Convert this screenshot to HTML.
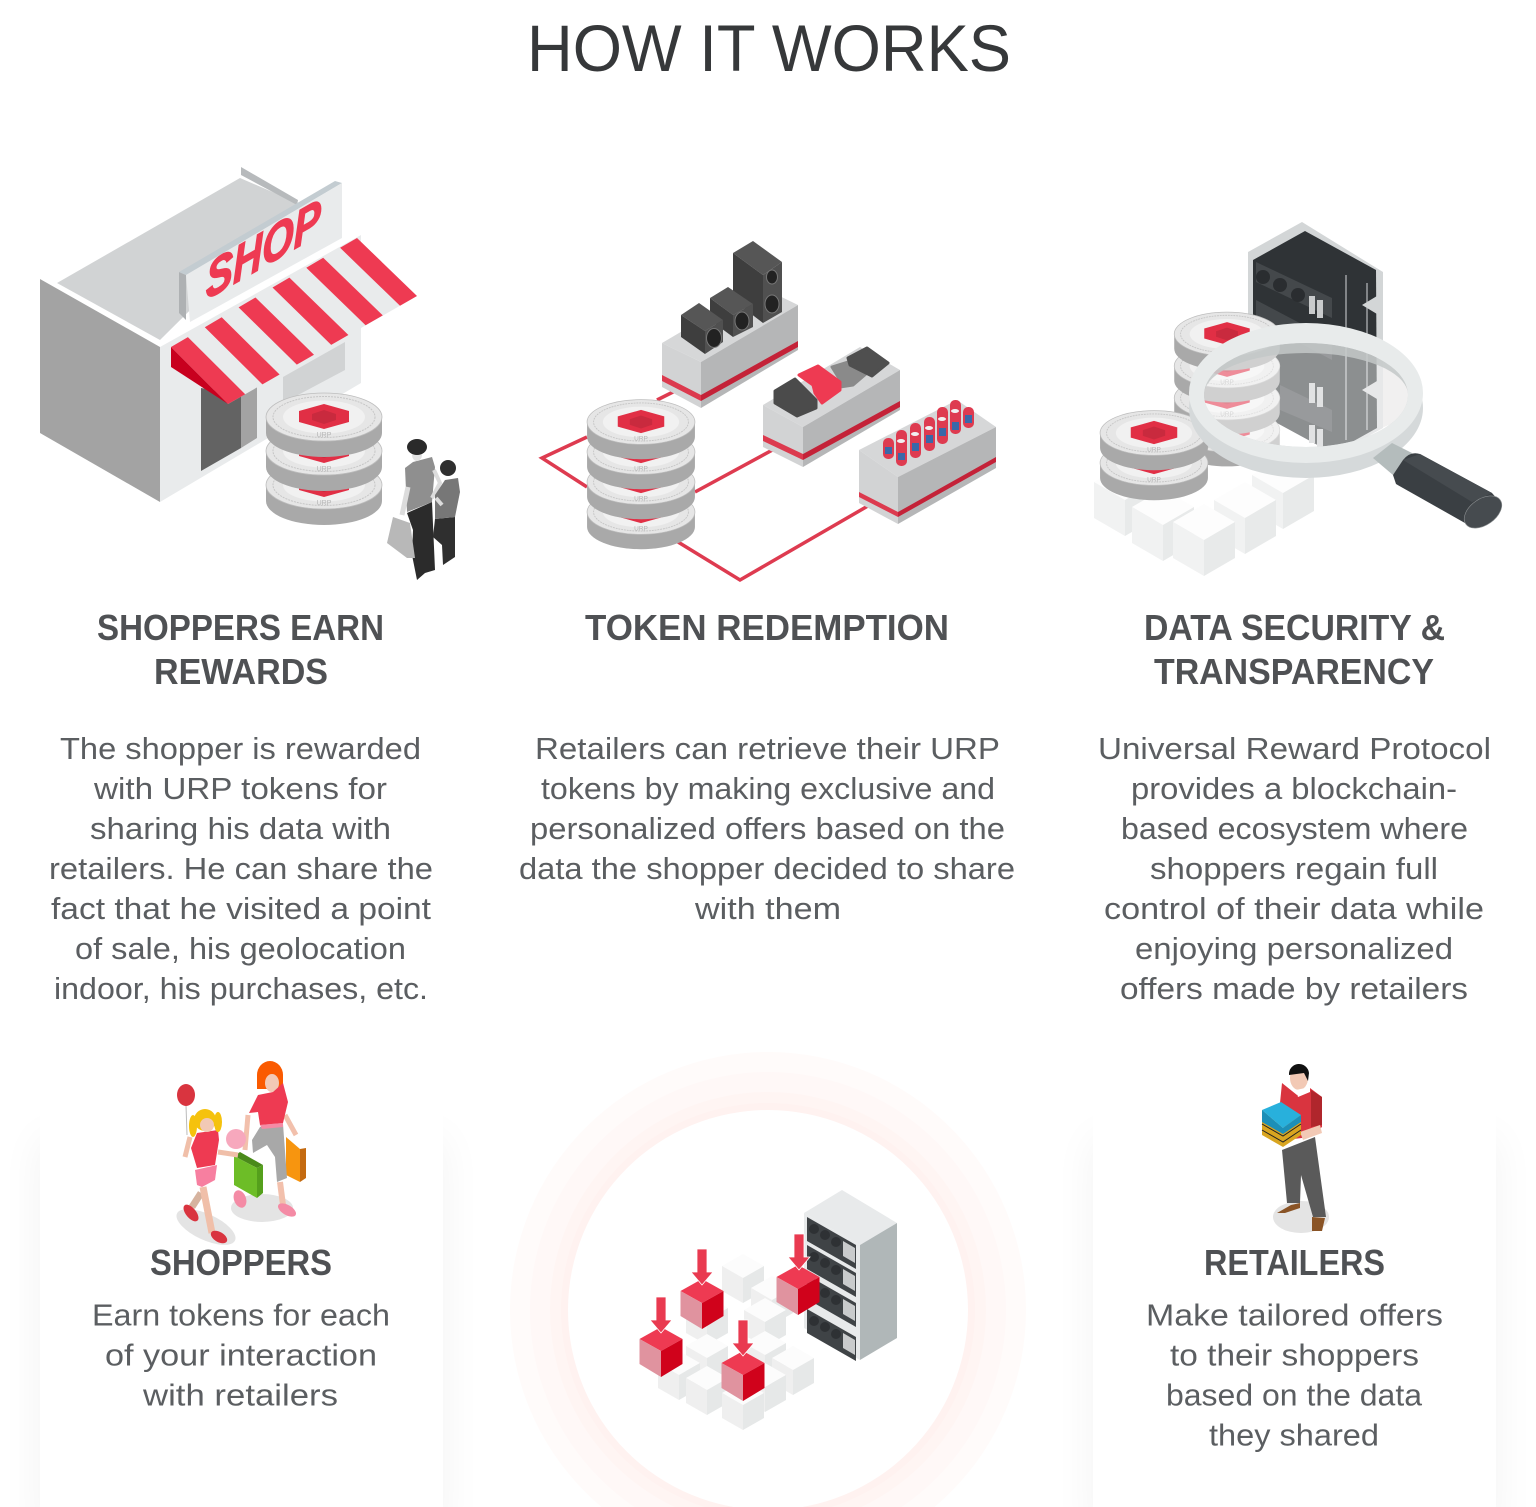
<!DOCTYPE html>
<html lang="en"><head><meta charset="utf-8"><title>How It Works</title>
<style>
html,body{margin:0;padding:0;background:#fff;width:1536px;height:1507px;overflow:hidden;position:relative}
.card{position:absolute;top:1108px;width:403px;height:399px;background:#fff;box-shadow:0 30px 40px rgba(0,0,0,.05)}
svg{position:absolute;left:0;top:0;display:block}
text{font-family:"Liberation Sans",sans-serif}
.h1{font-size:66px;fill:#36383a}
.h3{font-size:36px;font-weight:bold;fill:#4f5154}
.b{font-size:31px;fill:#5b5e61}
</style></head><body>
<div class="card" style="left:40px"></div>
<div class="card" style="left:1093px"></div>
<svg width="1536" height="1507" viewBox="0 0 1536 1507" xmlns="http://www.w3.org/2000/svg">
<defs>
<g id="coin">
<path d="M-58,0v16a58,24 0 0 0 116,0v-16z" fill="#a9a9a9"/>
<ellipse rx="58" ry="24" fill="#e6e6e6" stroke="#bdbdbd" stroke-width=".8"/>
<ellipse rx="51" ry="20.5" fill="none" stroke="#c6c6c6" stroke-dasharray="2 1"/>
<ellipse rx="41" ry="16.5" fill="#f1f1f1"/>
<polygon points="0,-13 25,-6 25,5 0,12 -25,5 -25,-6" fill="#e12f45"/>
<polygon points="-12,-3 0,-7 12,-3 12,3 0,7 -12,3" fill="#c92a3e"/>
<text x="0" y="20" text-anchor="middle" font-size="7" fill="#b5b5b5">URP</text>
</g>
<g id="wc">
<polygon points="0,0 -21,-12 0,-24 21,-12" fill="#fcfcfc"/>
<polygon points="0,0 -21,-12 -21,13 0,25" fill="#efefef"/>
<polygon points="0,0 21,-12 21,13 0,25" fill="#e6e8e8"/>
</g>
<g id="rc">
<polygon points="0,0 -21.5,-12 0,-24 21.5,-12" fill="#ee3a52"/>
<polygon points="0,0 -21.5,-12 -21.5,13 0,26" fill="#e0939f"/>
<polygon points="0,0 21.5,-12 21.5,13 0,26" fill="#d0021b"/>
</g>
<path id="ar" d="M0,0L-11,-13L-5,-13L-5,-36L5,-36L5,-13L11,-13Z" fill="#e93a50" stroke="#fff" stroke-width=".8"/>
<g id="bc">
<polygon points="0,0 -31,-18 0,-36 31,-18" fill="#fdfdfd"/>
<polygon points="0,0 -31,-18 -31,18 0,36" fill="#f1f2f2"/>
<polygon points="0,0 31,-18 31,18 0,36" fill="#e8eaea"/>
</g>
<g id="shelf">
<polygon points="807,0 856,28 856,52 807,24" fill="#3f4346"/>
<circle cx="814" cy="12" r="5" fill="#2e3134"/><circle cx="825" cy="18" r="5" fill="#2e3134"/><circle cx="836" cy="25" r="5" fill="#2e3134"/>
<polygon points="843,24 855,31 855,46 843,39" fill="#c9cbcc"/>
</g>
</defs>

<text class="h1" x="527" y="71" textLength="484" lengthAdjust="spacingAndGlyphs">HOW IT WORKS</text>

<!-- SHOP -->
<polygon points="40,279 241,167 298,200 160,347" fill="#fff"/>
<polygon points="57,283 240,178 298,203 160,340" fill="#d1d3d4"/>
<polygon points="241,167 298,200 297,205 241,175" fill="#b7babc"/>
<polygon points="40,279 160,347 160,502 40,433" fill="#a3a3a3"/>
<polygon points="160,347 361,235 361,383 160,502" fill="#e9ebec"/>
<polygon points="283,377 345,342 345,370 283,403" fill="#d1d3d4"/>
<polygon points="201,388 241,395 241,448 201,471" fill="#636363"/>
<polygon points="241,395 257,385 257,438 241,448" fill="#a3a3a3"/>
<polygon points="179,272 186,275 186,320 179,313" fill="#aeb1b3"/>
<polygon points="179,272 335,181 342,183 186,275" fill="#c3ccd1"/>
<polygon points="186,275 342,183 342,238 190,322" fill="#e9ebec"/>
<text transform="matrix(.87,-.5,0,1,206,300)" font-size="52" font-weight="bold" font-style="italic" fill="#ee3a52" stroke="#ee3a52" stroke-width="1.4" textLength="132" lengthAdjust="spacingAndGlyphs">SHOP</text>
<polygon points="171,347 357,238 417,296 228,404" fill="#e9ebec"/>
<g fill="#ee3a52">
<polygon points="171,347 187.9,337.1 245.2,394.2 228,404"/>
<polygon points="204.8,327.2 221.7,317.3 279.6,374.5 262.4,384.4"/>
<polygon points="238.6,307.4 255.5,297.5 314,354.8 296.8,364.6"/>
<polygon points="272.5,287.5 289.4,277.6 348.4,335 331.2,344.9"/>
<polygon points="306.3,267.7 323.2,257.8 382.8,315.4 365.6,325.2"/>
<polygon points="340.1,247.8 357,238 417,296 400,305.8"/>
</g>
<polygon points="171,347 171,367 228,404" fill="#c8001e"/>
<use href="#coin" x="324" y="485"/><use href="#coin" x="324" y="451"/><use href="#coin" x="324" y="417"/>
<!-- couple -->
<polygon points="407,513 432,502 435,570 425,573 417,580 412,555 413,530" fill="#2b2b2b"/>
<polygon points="387,543 393,517 410,523 415,558 407,558" fill="#b8b8b8"/>
<polygon points="405,468 413,462 432,457 435,467 432,502 407,512" fill="#8f8f8f"/>
<path d="M408,487L402,515" stroke="#dcdcdc" stroke-width="5"/>
<path d="M434,470L440,483L432,498" stroke="#dcdcdc" stroke-width="4" fill="none"/>
<ellipse cx="417" cy="455" rx="5" ry="6" fill="#e2e2e2"/>
<ellipse cx="417" cy="447" rx="10" ry="8" fill="#2a2a2a"/>
<polygon points="435,519 455,517 455,557 443,565 442,545 433,537" fill="#2f2f2f"/>
<polygon points="435,495 445,480 458,478 460,492 455,517 435,519" fill="#777"/>
<path d="M436,498L442,505" stroke="#dcdcdc" stroke-width="4"/>
<circle cx="448" cy="468" r="8" fill="#2f2f2f"/>

<!-- TOKEN REDEMPTION -->
<g fill="none" stroke="#de3b50" stroke-width="3.5">
<path d="M677,390L657,400"/><path d="M587,437L542,458L587,487"/><path d="M695,492L778,447"/><path d="M678,542L740,580L873,503"/>
</g>
<polygon points="662,343 759,286 798,305 701,362" fill="#d6d7d8"/>
<polygon points="662,343 701,362 701,408 662,387" fill="#d2d3d4"/>
<polygon points="701,362 798,305 798,350 701,408" fill="#b5b6b7"/>
<polygon points="662,375 701,395 701,401 662,381" fill="#dc3a4e"/>
<polygon points="701,395 798,341 798,347 701,401" fill="#c42238"/>
<polygon points="763,405 860,347 900,370 803,427" fill="#d6d7d8"/>
<polygon points="763,405 803,427 803,467 763,447" fill="#d2d3d4"/>
<polygon points="803,427 900,370 900,410 803,467" fill="#b5b6b7"/>
<polygon points="763,435 803,454 803,460 763,441" fill="#dc3a4e"/>
<polygon points="803,454 900,401 900,407 803,460" fill="#c42238"/>
<polygon points="859,450 957,400 996,427 898,477" fill="#d6d7d8"/>
<polygon points="859,450 898,477 898,524 859,503" fill="#d2d3d4"/>
<polygon points="898,477 996,427 996,468 898,524" fill="#b5b6b7"/>
<polygon points="859,492 898,512 898,517 859,497" fill="#dc3a4e"/>
<polygon points="898,512 996,457 996,462 898,517" fill="#c42238"/>
<!-- speakers -->
<polygon points="733,253 753,241 782,262 763,275" fill="#565656"/>
<polygon points="733,253 763,275 763,323 733,300" fill="#3e3e3e"/>
<polygon points="763,275 782,262 782,312 763,323" fill="#505050"/>
<ellipse cx="772" cy="277" rx="5.5" ry="7" fill="#222" stroke="#777"/><ellipse cx="772" cy="304" rx="7" ry="9" fill="#222" stroke="#777"/>
<polygon points="710,298 728,287 753,304 733,315" fill="#565656"/>
<polygon points="710,298 733,315 733,337 710,320" fill="#3e3e3e"/>
<polygon points="733,315 753,304 753,327 733,337" fill="#505050"/>
<ellipse cx="742" cy="321" rx="7" ry="9" fill="#222" stroke="#777"/>
<polygon points="681,315 699,303 723,320 705,331" fill="#565656"/>
<polygon points="681,315 705,331 705,354 681,337" fill="#3e3e3e"/>
<polygon points="705,331 723,320 723,342 705,354" fill="#505050"/>
<ellipse cx="714" cy="338" rx="7.5" ry="9.5" fill="#222" stroke="#777"/>
<!-- clothes -->
<g stroke-linejoin="round" stroke-width="3">
<polygon points="775,391 795,379 816,400 816,408 797,416 775,403" fill="#4b4b4b" stroke="#4b4b4b"/>
<polygon points="832,367 848,362 867,373 853,385 840,387 840,380" fill="#8a8a8a" stroke="#8a8a8a"/>
<polygon points="848,358 867,348 888,363 872,376 850,365" fill="#4f4f4f" stroke="#4f4f4f"/>
<polygon points="799,375 818,366 840,382 840,390 822,403 815,393 813,385" fill="#ee3a52" stroke="#ee3a52"/>
</g>
<!-- bottles -->
<g fill="#de3b50">
<rect x="883" y="438" width="11" height="21" rx="5"/><rect x="896" y="430" width="11" height="36" rx="5"/>
<rect x="910" y="423" width="11" height="35" rx="5"/><rect x="924" y="417" width="11" height="34" rx="5"/>
<rect x="937" y="407" width="11" height="37" rx="5"/><rect x="950" y="400" width="11" height="34" rx="5"/>
<rect x="963" y="407" width="11" height="21" rx="5"/>
</g>
<g fill="#3a68a8">
<rect x="885" y="447" width="7" height="7"/><rect x="898" y="453" width="7" height="7"/>
<rect x="912" y="443" width="7" height="8"/><rect x="926" y="435" width="7" height="8"/>
<rect x="939" y="428" width="7" height="8"/><rect x="952" y="422" width="7" height="8"/>
<rect x="965" y="415" width="7" height="8"/>
</g>
<g fill="#f1f1f1">
<ellipse cx="901" cy="441" rx="4" ry="2"/><ellipse cx="915" cy="434" rx="4" ry="2"/><ellipse cx="929" cy="428" rx="4" ry="2"/><ellipse cx="942" cy="419" rx="4" ry="2"/><ellipse cx="955" cy="411" rx="4" ry="2"/>
</g>
<use href="#coin" transform="translate(641,512) scale(.93)"/><use href="#coin" transform="translate(641,482) scale(.93)"/><use href="#coin" transform="translate(641,452) scale(.93)"/><use href="#coin" transform="translate(641,422) scale(.93)"/>

<!-- DATA SECURITY -->
<use href="#bc" x="1283" y="493"/><use href="#bc" x="1125" y="500"/><use href="#bc" x="1245" y="518"/><use href="#bc" x="1163" y="525"/><use href="#bc" x="1204" y="540"/>
<polygon points="1377,345 1412,375 1412,415 1377,430" fill="#e6e4e4"/>
<polygon points="1248,252 1302,222 1383,272 1383,428 1343,450 1248,400" fill="#d3d6d7"/>
<polygon points="1253,260 1305,231 1376,270 1377,428 1343,447 1323,448 1253,410" fill="#2f3336"/>
<g id="rs">
<polygon points="1256,262 1332,298 1332,318 1256,282" fill="#44484b"/>
<polygon points="1256,300 1332,340 1332,360 1256,320" fill="#44484b"/>
<polygon points="1280,385 1332,410 1332,432 1280,410" fill="#44484b"/>
</g>
<g fill="#2a2d30"><circle cx="1263" cy="277" r="7"/><circle cx="1280" cy="285" r="7"/><circle cx="1298" cy="295" r="7"/></g>
<g fill="#c9cbcc"><rect x="1309" y="296" width="6" height="18"/><rect x="1317" y="300" width="6" height="18"/>
<rect x="1309" y="383" width="6" height="20"/><rect x="1317" y="387" width="6" height="20"/>
<rect x="1309" y="425" width="6" height="18"/><rect x="1317" y="429" width="6" height="18"/></g>
<path d="M1346,275V440M1367,283V430" stroke="#b9bcbe" stroke-width="1.2"/>
<polygon points="1362,305 1377,296 1377,314" fill="#d3d6d7"/>
<polygon points="1362,390 1377,381 1377,399" fill="#d3d6d7"/>
<use href="#coin" transform="translate(1227,430) scale(.91)"/><use href="#coin" transform="translate(1227,398) scale(.91)"/><use href="#coin" transform="translate(1227,366) scale(.91)"/><use href="#coin" transform="translate(1227,334) scale(.91)"/>
<use href="#coin" transform="translate(1154,463) scale(.93)"/><use href="#coin" transform="translate(1154,433) scale(.93)"/>
<ellipse cx="1306" cy="395" rx="102" ry="52" fill="#fff" fill-opacity=".45"/>
<path d="M1204,395A102,52 0 0 1 1408,395A102,42 0 0 0 1204,395Z" fill="#c3c8c8" fill-opacity=".85"/>
<path fill-rule="evenodd" d="M1189,408A117,70 0 1 0 1423,408A117,70 0 1 0 1189,408ZM1204,395A102,52 0 1 1 1408,395A102,52 0 1 1 1204,395Z" fill="#d5d9da"/>
<path fill-rule="evenodd" d="M1189,393A117,70 0 1 0 1423,393A117,70 0 1 0 1189,393ZM1204,395A102,52 0 1 1 1408,395A102,52 0 1 1 1204,395Z" fill="#e8ebeb"/>
<polygon points="1373,458 1392,443 1412,453 1393,475" fill="#b4bcbc"/>
<path d="M1393,475L1403,460Q1410,451 1420,454L1492,493L1499,501L1472,527L1396,484Z" fill="#3a3f43"/>
<polygon points="1403,460 1420,454 1492,493 1472,502" fill="#464b4f"/>
<ellipse cx="1483" cy="512" rx="21" ry="13" transform="rotate(-35 1483 512)" fill="#464b4f" stroke="#8a8e90" stroke-width=".6"/>

<text class="h3" x="97" y="640" textLength="287" lengthAdjust="spacingAndGlyphs">SHOPPERS EARN</text>
<text class="h3" x="154" y="684" textLength="174" lengthAdjust="spacingAndGlyphs">REWARDS</text>
<text class="h3" x="585" y="640" textLength="364" lengthAdjust="spacingAndGlyphs">TOKEN REDEMPTION</text>
<text class="h3" x="1144" y="640" textLength="301" lengthAdjust="spacingAndGlyphs">DATA SECURITY &amp;</text>
<text class="h3" x="1154" y="684" textLength="280" lengthAdjust="spacingAndGlyphs">TRANSPARENCY</text>

<text class="b" x="60" y="759" textLength="361" lengthAdjust="spacingAndGlyphs">The shopper is rewarded</text>
<text class="b" x="94" y="799" textLength="293" lengthAdjust="spacingAndGlyphs">with URP tokens for</text>
<text class="b" x="90" y="839" textLength="301" lengthAdjust="spacingAndGlyphs">sharing his data with</text>
<text class="b" x="49" y="879" textLength="384" lengthAdjust="spacingAndGlyphs">retailers. He can share the</text>
<text class="b" x="51" y="919" textLength="380" lengthAdjust="spacingAndGlyphs">fact that he visited a point</text>
<text class="b" x="75" y="959" textLength="331" lengthAdjust="spacingAndGlyphs">of sale, his geolocation</text>
<text class="b" x="54" y="999" textLength="374" lengthAdjust="spacingAndGlyphs">indoor, his purchases, etc.</text>

<text class="b" x="535" y="759" textLength="465" lengthAdjust="spacingAndGlyphs">Retailers can retrieve their URP</text>
<text class="b" x="541" y="799" textLength="454" lengthAdjust="spacingAndGlyphs">tokens by making exclusive and</text>
<text class="b" x="530" y="839" textLength="475" lengthAdjust="spacingAndGlyphs">personalized offers based on the</text>
<text class="b" x="519" y="879" textLength="496" lengthAdjust="spacingAndGlyphs">data the shopper decided to share</text>
<text class="b" x="695" y="919" textLength="146" lengthAdjust="spacingAndGlyphs">with them</text>

<text class="b" x="1098" y="759" textLength="393" lengthAdjust="spacingAndGlyphs">Universal Reward Protocol</text>
<text class="b" x="1131" y="799" textLength="326" lengthAdjust="spacingAndGlyphs">provides a blockchain-</text>
<text class="b" x="1121" y="839" textLength="347" lengthAdjust="spacingAndGlyphs">based ecosystem where</text>
<text class="b" x="1150" y="879" textLength="288" lengthAdjust="spacingAndGlyphs">shoppers regain full</text>
<text class="b" x="1104" y="919" textLength="380" lengthAdjust="spacingAndGlyphs">control of their data while</text>
<text class="b" x="1135" y="959" textLength="318" lengthAdjust="spacingAndGlyphs">enjoying personalized</text>
<text class="b" x="1120" y="999" textLength="348" lengthAdjust="spacingAndGlyphs">offers made by retailers</text>

<!-- circle -->
<circle cx="768" cy="1310" r="258" fill="#fffbfa"/>
<circle cx="768" cy="1310" r="238" fill="#fff8f7"/>
<circle cx="768" cy="1310" r="218" fill="#fff5f3"/>
<circle cx="768" cy="1310" r="207" fill="#fff2f0"/>
<circle cx="768" cy="1310" r="200" fill="#fff"/>

<!-- SHOPPERS figures -->
<ellipse cx="206" cy="1227" rx="32" ry="13" transform="rotate(25 206 1227)" fill="#e4e4e4"/>
<ellipse cx="262" cy="1208" rx="31" ry="14" fill="#e4e4e4"/>
<line x1="186" y1="1105" x2="187" y2="1135" stroke="#bbb"/>
<ellipse cx="186" cy="1095" rx="9" ry="11" fill="#d9343f"/>
<path d="M280,1182L283,1205" stroke="#f2c0ac" stroke-width="6"/>
<ellipse cx="287" cy="1210" rx="10" ry="5" transform="rotate(30 287 1210)" fill="#f48ba5"/>
<ellipse cx="240" cy="1199" rx="6" ry="9" transform="rotate(-20 240 1199)" fill="#f48ba5"/>
<polygon points="286,1137 300,1149 300,1182 286,1175" fill="#f7950f"/>
<polygon points="300,1149 306,1148 306,1178 300,1182" fill="#c46a10"/>
<polygon points="260,1127 283,1124 287,1178 277,1182 275,1157 267,1145 253,1153 252,1140" fill="#a8a8a8"/>
<path d="M248,1115L245,1150M285,1115L296,1135" stroke="#f2c0ac" stroke-width="5" fill="none"/>
<polygon points="260,1125 283,1123 283,1127 262,1129" fill="#f48ba5"/>
<ellipse cx="270" cy="1075" rx="13" ry="14" fill="#fa5a00"/><rect x="257" y="1075" width="26" height="14" fill="#fa5a00"/>
<ellipse cx="272" cy="1083" rx="7" ry="9" fill="#f2c9b5"/>
<polygon points="249,1113 258,1095 273,1092 283,1083 288,1102 283,1123 260,1125 258,1112" fill="#ee3a52"/>
<polygon points="234,1156 240,1152 263,1165 257,1168" fill="#4a8a1a"/>
<polygon points="234,1156 257,1168 257,1198 234,1185" fill="#6dbd27"/>
<polygon points="257,1168 263,1165 263,1193 257,1198" fill="#55a01c"/>
<circle cx="236" cy="1139" r="10" fill="#f7a8bd"/>
<path d="M201,1193L192,1207" stroke="#d6b39f" stroke-width="7"/>
<path d="M203,1187L212,1233" stroke="#f0bfa9" stroke-width="7"/>
<path d="M218,1152L238,1155M190,1137L185,1157" stroke="#f0bfa9" stroke-width="5" fill="none"/>
<ellipse cx="191" cy="1213" rx="10" ry="5" transform="rotate(50 191 1213)" fill="#d9343f"/>
<ellipse cx="219" cy="1237" rx="9" ry="5" transform="rotate(30 219 1237)" fill="#d9343f"/>
<polygon points="195,1170 217,1165 215,1180 202,1187 197,1185" fill="#f77fa0"/>
<polygon points="191,1148 197,1133 218,1130 219,1140 215,1165 197,1168" fill="#ee3a52"/>
<ellipse cx="193" cy="1126" rx="4" ry="11" fill="#f5c20d"/><ellipse cx="218" cy="1122" rx="4" ry="10" fill="#f5c20d"/>
<ellipse cx="205" cy="1120" rx="11" ry="11" fill="#f5c20d"/><ellipse cx="207" cy="1125" rx="7" ry="7" fill="#f2c9b5"/>

<!-- RETAILER figure -->
<ellipse cx="1301" cy="1217" rx="28" ry="16" fill="#e4e4e4"/>
<polygon points="1282,1150 1315,1137 1326,1217 1313,1217 1301,1175 1300,1203 1287,1203" fill="#5a5a5a"/>
<polygon points="1277,1213 1291,1205 1300,1203 1300,1208 1285,1213" fill="#8a5426"/>
<polygon points="1312,1217 1325,1218 1322,1231 1312,1231" fill="#8a5426"/>
<polygon points="1282,1083 1297,1095 1310,1088 1322,1097 1322,1127 1310,1137 1285,1140 1280,1103" fill="#d9343f"/>
<polygon points="1311,1090 1322,1097 1322,1125 1311,1127" fill="#b0262c"/>
<polygon points="1300,1132 1320,1125 1322,1133 1303,1140" fill="#f2c9b5"/>
<ellipse cx="1299" cy="1078" rx="9" ry="12" fill="#f2c9b5"/>
<path d="M1289,1075A10,10 0 0 1 1309,1073L1308,1081L1304,1073L1289,1075Z" fill="#111"/>
<polygon points="1296,1090 1310,1087 1310,1092 1298,1097" fill="#fff"/>
<polygon points="1262,1110 1262,1135 1283,1147 1301,1135 1301,1115 1283,1128" fill="#d9a520"/>
<polygon points="1262,1110 1262,1122 1283,1134 1301,1122 1301,1115 1283,1128" fill="#1c8fb8"/>
<polygon points="1262,1110 1281,1102 1301,1115 1283,1128" fill="#28b0dc"/>
<path d="M1262,1124L1283,1136L1301,1124M1262,1130L1283,1142L1301,1130" stroke="#222" stroke-width="1" fill="none"/>

<text class="h3" x="150" y="1275" textLength="182" lengthAdjust="spacingAndGlyphs">SHOPPERS</text>
<text class="h3" x="1204" y="1275" textLength="181" lengthAdjust="spacingAndGlyphs">RETAILERS</text>
<text class="b" x="92" y="1325.5" textLength="298" lengthAdjust="spacingAndGlyphs">Earn tokens for each</text>
<text class="b" x="105" y="1365.5" textLength="272" lengthAdjust="spacingAndGlyphs">of your interaction</text>
<text class="b" x="143" y="1405.5" textLength="195" lengthAdjust="spacingAndGlyphs">with retailers</text>
<text class="b" x="1146" y="1325.5" textLength="297" lengthAdjust="spacingAndGlyphs">Make tailored offers</text>
<text class="b" x="1170" y="1365.5" textLength="249" lengthAdjust="spacingAndGlyphs">to their shoppers</text>
<text class="b" x="1166" y="1405.5" textLength="256" lengthAdjust="spacingAndGlyphs">based on the data</text>
<text class="b" x="1209" y="1445.5" textLength="170" lengthAdjust="spacingAndGlyphs">they shared</text>

<!-- centre illustration -->
<use href="#wc" x="743" y="1278"/><use href="#wc" x="772" y="1300"/>
<use href="#wc" x="707" y="1320"/><use href="#wc" x="765" y="1322"/>
<use href="#wc" x="765" y="1355"/><use href="#wc" x="707" y="1358"/>
<use href="#wc" x="793" y="1370"/><use href="#wc" x="679" y="1375"/><use href="#wc" x="765" y="1387"/><use href="#wc" x="707" y="1390"/><use href="#wc" x="743" y="1405"/>
<polygon points="804,1213 860,1245 860,1360 804,1328" fill="#e8eaeb"/>
<polygon points="804,1213 842,1190 897,1223 860,1245" fill="#e8eaeb"/>
<polygon points="860,1245 897,1223 897,1338 860,1360" fill="#b0b7b8"/>
<use href="#shelf" y="1217"/><use href="#shelf" y="1245"/><use href="#shelf" y="1275"/><use href="#shelf" y="1309"/>
<use href="#rc" x="661" y="1351"/><use href="#rc" x="702" y="1303"/><use href="#rc" x="743" y="1375"/><use href="#rc" x="798" y="1289"/>
<use href="#ar" x="661" y="1333"/><use href="#ar" x="702" y="1285"/><use href="#ar" x="743" y="1356"/><use href="#ar" x="799" y="1270"/>
</svg>
</body></html>
